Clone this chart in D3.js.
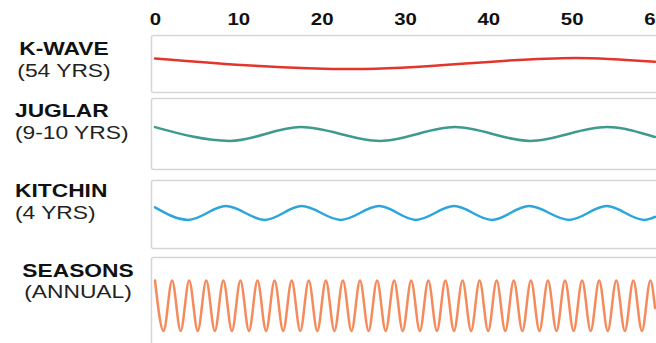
<!DOCTYPE html>
<html>
<head>
<meta charset="utf-8">
<script src="https://cdn.jsdelivr.net/npm/d3@7"></script>
<style>
  html, body { margin: 0; padding: 0; background: #fff; }
  svg { display: block; font-family: "Liberation Sans", Arial, sans-serif; }
</style>
</head>
<body>
<svg id="chart" width="656" height="343"></svg>
<script>
// ---- data ----
const tickYears = [0, 10, 20, 30, 40, 50, 60];
const cycleNames = ["K-WAVE", "JUGLAR", "KITCHIN", "SEASONS"];
const cycleSubs = ["(54 YRS)", "(9-10 YRS)", "(4 YRS)", "(ANNUAL)"];
const cycleColors = ["#e2362c", "#3f9a8e", "#2ba6dc", "#f58b5c"];

// [year, relative level] at the turning points (and ends) of each wave
const kwave = [[0, 0.20], [24, -0.22], [50.5, 0.22], [60, 0.07]];
const juglar = [[0, 0.27], [9, -0.27], [17.5, 0.27], [27, -0.27], [36, 0.27], [45, -0.27], [54.2, 0.27], [60, -0.12]];
const kitchin = [[0, 0.22], [4, -0.27], [8.5, 0.27], [13.2, -0.27], [17.6, 0.27], [22.3, -0.27], [26.9, 0.27],
  [31.3, -0.27], [35.9, 0.27], [40.4, -0.27], [44.9, 0.27], [49.7, -0.27], [54.2, 0.27], [58.7, -0.27], [60, -0.15]];
const seasons = [[0, 0.98], [1.03, -1], [2.05, 0.98], [3.08, -1], [4.1, 0.98], [5.13, -1], [6.15, 0.98], [7.18, -1],
  [8.2, 0.98], [9.23, -1], [10.25, 0.98], [11.28, -1], [12.3, 0.98], [13.33, -1], [14.35, 0.98], [15.38, -1],
  [16.4, 0.98], [17.43, -1], [18.45, 0.98], [19.48, -1], [20.5, 0.98], [21.53, -1], [22.55, 0.98], [23.58, -1],
  [24.6, 0.98], [25.63, -1], [26.65, 0.98], [27.68, -1], [28.7, 0.98], [29.73, -1], [30.75, 0.98], [31.78, -1],
  [32.8, 0.98], [33.83, -1], [34.85, 0.98], [35.88, -1], [36.9, 0.98], [37.93, -1], [38.95, 0.98], [39.98, -1],
  [41.0, 0.98], [42.03, -1], [43.05, 0.98], [44.08, -1], [45.1, 0.98], [46.13, -1], [47.15, 0.98], [48.18, -1],
  [49.2, 0.98], [50.23, -1], [51.25, 0.98], [52.28, -1], [53.3, 0.98], [54.33, -1], [55.35, 0.98], [56.38, -1],
  [57.4, 0.98], [58.43, -1], [59.45, 0.98], [60, -0.1]];
const waves = [kwave, juglar, kitchin, seasons];

// ---- layout ----
const svg = d3.select("#chart");
const x = d3.scaleLinear().domain([0, 60]).range([155, 655]);
const panels = [
  { top: 35, bottom: 92 },
  { top: 98, bottom: 169 },
  { top: 180, bottom: 248 },
  { top: 257, bottom: 354 }
];
const labelPos = [
  { anchor: "middle", lx: 64, y1: 55, y2: 77 },
  { anchor: "start", lx: 15, y1: 117, y2: 139 },
  { anchor: "start", lx: 15, y1: 197, y2: 219 },
  { anchor: "middle", lx: 78, y1: 277, y2: 298 }
];
const waveCenters = [63.5, 134, 213, 305.5];
const amp = d3.scaleLinear().domain([-1, 1]).range([25.5, -25.5]);
const stretch = 1.2;

// top axis
const axis = d3.axisTop(x).tickValues(tickYears).tickSize(0).tickPadding(0).tickFormat(d3.format("d"));
const gAxis = svg.append("g").attr("transform", "translate(0,25)").call(axis);
gAxis.select(".domain").remove();
gAxis.selectAll("text")
  .attr("fill", "#111")
  .attr("transform", `scale(${stretch},1)`)
  .style("font-size", "17px")
  .style("font-weight", "bold")
  .style("font-family", "'Liberation Sans', Arial, sans-serif");

// panels
panels.forEach((p, i) => {
  svg.append("rect")
    .attr("x", 151.5).attr("y", p.top + 0.5)
    .attr("width", 520).attr("height", p.bottom - p.top)
    .attr("rx", 2)
    .attr("fill", "#fff")
    .attr("stroke", "#d6d6d6")
    .attr("stroke-width", 1.5);

  const lp = labelPos[i];
  svg.append("text")
    .attr("transform", `translate(${lp.lx},${lp.y1}) scale(${stretch},1)`)
    .attr("text-anchor", lp.anchor)
    .style("font-size", "19px").style("font-weight", "bold")
    .attr("fill", "#111")
    .text(cycleNames[i]);
  svg.append("text")
    .attr("transform", `translate(${lp.lx},${lp.y2}) scale(${stretch},1)`)
    .attr("text-anchor", lp.anchor)
    .style("font-size", "19px")
    .attr("fill", "#222")
    .text(cycleSubs[i]);

  const line = d3.line()
    .x(d => x(d[0]))
    .y(d => waveCenters[i] + amp(d[1]))
    .curve(d3.curveMonotoneX);
  svg.append("path")
    .datum(waves[i])
    .attr("d", line)
    .attr("fill", "none")
    .attr("stroke", cycleColors[i])
    .attr("stroke-width", 2.5)
    .attr("stroke-linecap", "round");
});
</script>
</body>
</html>
